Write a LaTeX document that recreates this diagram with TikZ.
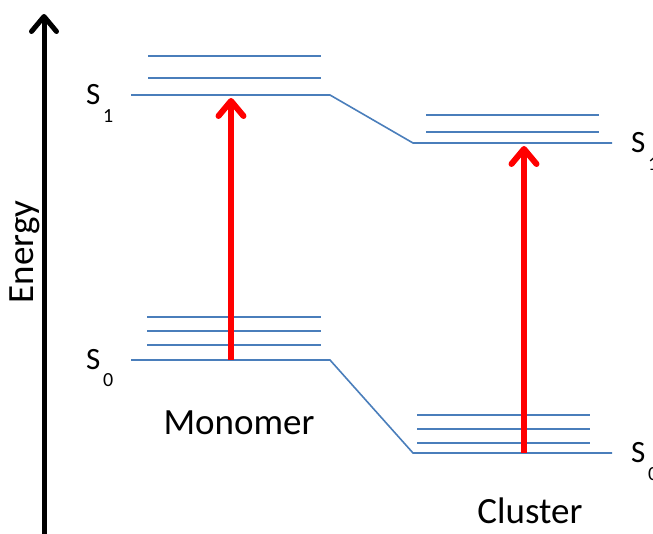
\documentclass[tikz,border=0pt]{standalone}
\usepackage{fontspec}
\setmainfont{Carlito}
\usetikzlibrary{arrows.meta}
\definecolor{levelblue}{RGB}{74,126,187}
\definecolor{excred}{RGB}{255,0,0}
\begin{document}
\begin{tikzpicture}[x=1pt,y=-1pt,
    level/.style={levelblue, line width=1.6pt},
    axisarrow/.style={black, line width=5pt,
      -{Straight Barb[length=15pt,width=25pt,round]}},
    excite/.style={excred, line width=6pt,
      -{Straight Barb[length=15pt,width=25pt,round]}},
    biglabel/.style={inner sep=0pt, font=\fontsize{37}{37}\selectfont},
    statelabel/.style={inner sep=0pt, anchor=base west, font=\fontsize{31}{31}\selectfont},
    sublabel/.style={inner sep=0pt, anchor=base west, font=\fontsize{20}{20}\selectfont}]
  \useasboundingbox (0,0) rectangle (653,533);
  \clip (0,0) rectangle (653,533);

  % energy axis
  \coordinate (ebot) at (44,545);
  \coordinate (etop) at (44,14);
  \draw[axisarrow] (ebot) -- (etop);
  \node[biglabel, rotate=90, anchor=base] (elab) at (33,252) {Energy};

  % monomer levels
  \coordinate (mS1l) at (131,95);
  \coordinate (mS1r) at (330,95);
  \coordinate (mS0l) at (131,360);
  \coordinate (mS0r) at (330,360);
  % cluster levels
  \coordinate (cS1l) at (413,143);
  \coordinate (cS1r) at (612,143);
  \coordinate (cS0l) at (413,453);
  \coordinate (cS0r) at (612,453);

  \draw[level] (mS1l) -- (mS1r) -- (cS1l) -- (cS1r);
  \draw[level] (mS0l) -- (mS0r) -- (cS0l) -- (cS0r);

  % vibrational sublevels
  \foreach \y in {56,78} \draw[level] (148,\y) -- (321,\y);
  \foreach \y in {317,331,345} \draw[level] (147,\y) -- (321,\y);
  \foreach \y in {115,132} \draw[level] (426,\y) -- (599,\y);
  \foreach \y in {415,429,443} \draw[level] (417,\y) -- (590,\y);

  % excitations
  \coordinate (mlow) at (231,360);
  \coordinate (mup) at (231,98);
  \coordinate (clow) at (524,453);
  \coordinate (cup) at (524,146);
  \draw[excite] (mlow) -- (mup);
  \draw[excite] (clow) -- (cup);

  % state labels
  \node[statelabel] (ms1) at (86,104) {S};
  \node[sublabel] (ms1i) at (103,122) {1};
  \node[statelabel] (ms0) at (86,369) {S};
  \node[sublabel] (ms0i) at (103,386) {0};
  \node[statelabel] (cs1) at (631,152) {S};
  \node[sublabel] (cs1i) at (648,170) {1};
  \node[statelabel] (cs0) at (631,462) {S};
  \node[sublabel] (cs0i) at (648,480) {0};

  \node[biglabel, anchor=base] (mono) at (239,434) {Monomer};
  \node[biglabel, anchor=base] (clus) at (530,523) {Cluster};
\end{tikzpicture}
\end{document}
